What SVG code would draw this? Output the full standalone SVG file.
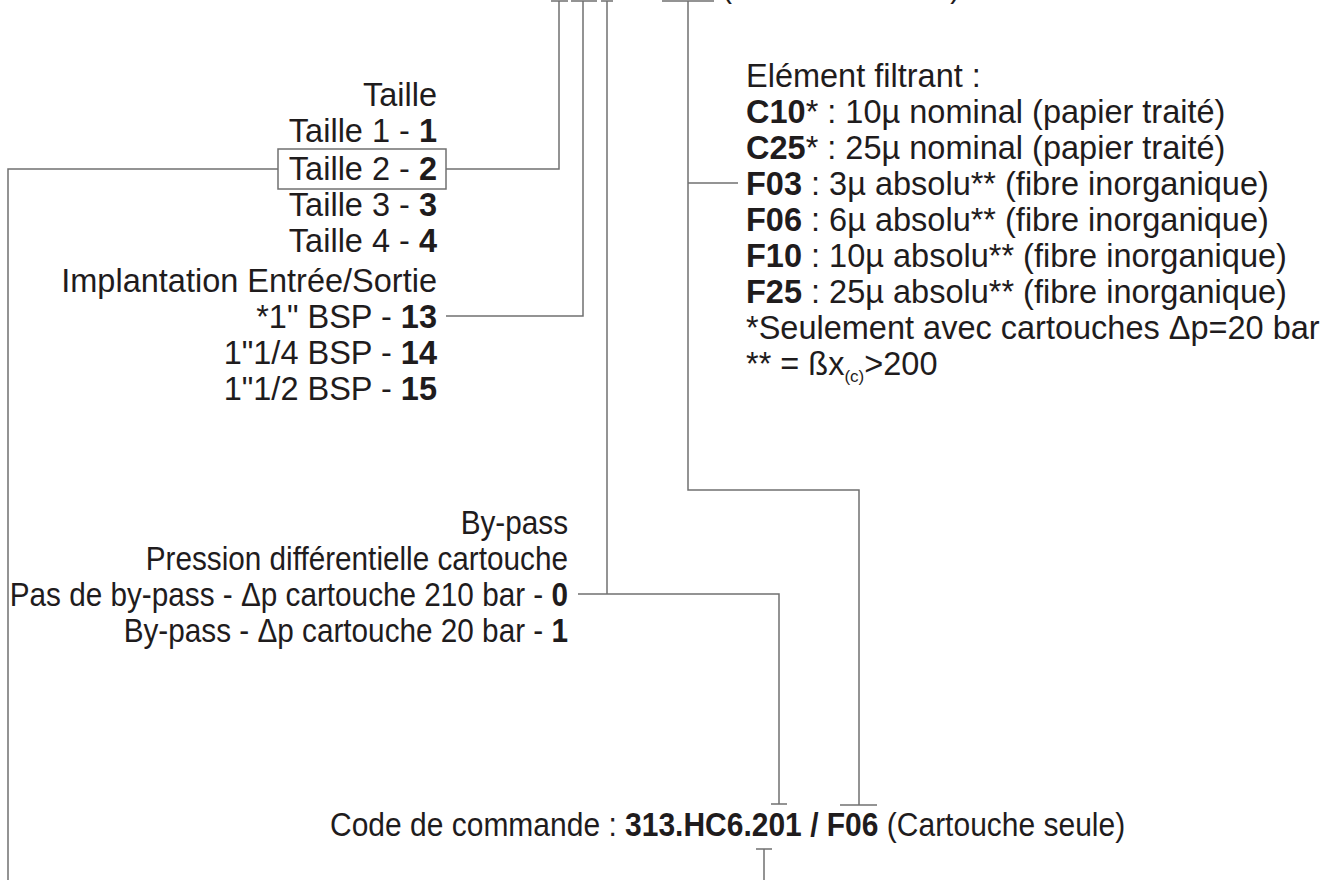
<svg xmlns="http://www.w3.org/2000/svg" width="1331" height="880" viewBox="0 0 1331 880">
<style>
text{font-family:"Liberation Sans",Arial,sans-serif;font-size:32.5px;fill:#1f1c1d}
.r{text-anchor:end}
.b{font-weight:bold}
.ln{fill:none;stroke:#707070;stroke-width:1.5}
.box{fill:none;stroke:#707070;stroke-width:1.5}
</style>
<g id="top-label" transform="translate(722,0) scale(0.923,1) translate(-722,0)"><text x="722" y="-3">(Cartouche seule)</text></g>
<g id="taille">
<text class="r" x="437" y="106">Taille</text>
<text class="r" x="437" y="142">Taille 1 - <tspan class="b">1</tspan></text>
<rect class="box" x="278" y="149" width="168" height="40"/>
<text class="r" x="437" y="180">Taille 2 - <tspan class="b">2</tspan></text>
<text class="r" x="437" y="216">Taille 3 - <tspan class="b">3</tspan></text>
<text class="r" x="437" y="252">Taille 4 - <tspan class="b">4</tspan></text>
</g>
<g id="implantation">
<text class="r" x="437" y="292">Implantation Entrée/Sortie</text>
<text class="r" x="437" y="328">*1" BSP - <tspan class="b">13</tspan></text>
<text class="r" x="437" y="364">1"1/4 BSP - <tspan class="b">14</tspan></text>
<text class="r" x="437" y="400">1"1/2 BSP - <tspan class="b">15</tspan></text>
</g>
<g id="bypass" transform="translate(568,0) scale(0.915,1) translate(-568,0)">
<text class="r" x="568" y="534">By-pass</text>
<text class="r" x="568" y="570">Pression différentielle cartouche</text>
<text class="r" x="568" y="606">Pas de by-pass - Δp cartouche 210 bar - <tspan class="b">0</tspan></text>
<text class="r" x="568" y="642">By-pass - Δp cartouche 20 bar - <tspan class="b">1</tspan></text>
</g>
<g id="element">
<text x="746" y="87">Elément filtrant :</text>
<text x="746" y="123"><tspan class="b">C10</tspan>* : 10µ nominal (papier traité)</text>
<text x="746" y="159"><tspan class="b">C25</tspan>* : 25µ nominal (papier traité)</text>
<text x="746" y="195"><tspan class="b">F03</tspan> : 3µ absolu** (fibre inorganique)</text>
<text x="746" y="231"><tspan class="b">F06</tspan> : 6µ absolu** (fibre inorganique)</text>
<text x="746" y="267"><tspan class="b">F10</tspan> : 10µ absolu** (fibre inorganique)</text>
<text x="746" y="303"><tspan class="b">F25</tspan> : 25µ absolu** (fibre inorganique)</text>
<text x="746" y="339">*Seulement avec cartouches Δp=20 bar</text>
<text x="746" y="375">** = ßx<tspan style="font-size:17px" dy="7">(c)</tspan><tspan dy="-7">&gt;200</tspan></text>
</g>
<g id="code" transform="translate(330,0) scale(0.923,1) translate(-330,0)">
<text x="330" y="836">Code de commande : <tspan class="b">313.HC6.201 / F06</tspan> (Cartouche seule)</text>
</g>
<g id="connectors">
<path class="ln" d="M551,1H568M571,1H597M601,1H613M662,1H714"/>
<polyline class="ln" points="278,169 8,169 8,880"/>
<polyline class="ln" points="446,169 559,169 559,1"/>
<polyline class="ln" points="446,316 583,316 583,1"/>
<polyline class="ln" points="578,594 779,594 779,804"/>
<line class="ln" x1="607" y1="1" x2="607" y2="594"/>
<path class="ln" d="M771,804H787"/>
<polyline class="ln" points="688,1 688,490 859,490 859,805"/>
<path class="ln" d="M840,805H877"/>
<line class="ln" x1="688" y1="183" x2="738" y2="183"/>
<path class="ln" d="M756,849H772M764,849V880"/>
</g>
</svg>
